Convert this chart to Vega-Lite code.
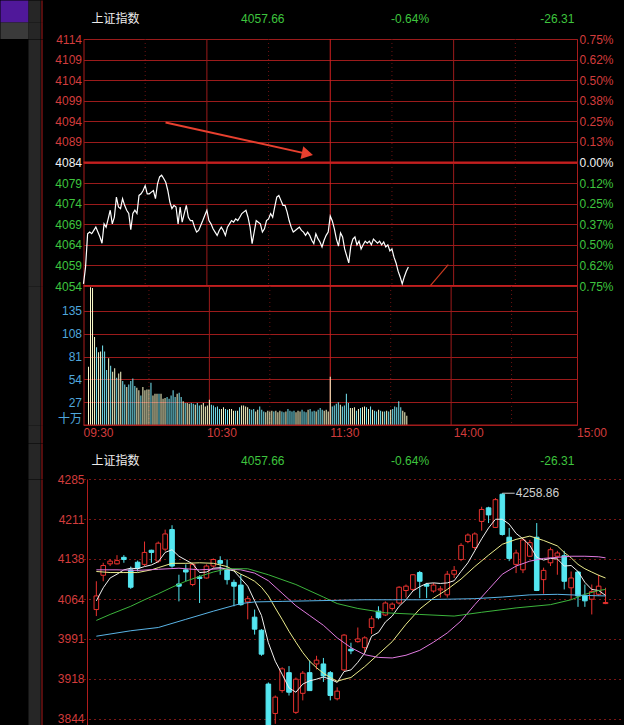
{
"$schema":"https://vega.github.io/schema/vega-lite/v6.json",
"background":"#000000",
"padding":{"left":13.5,"top":0,"right":0,"bottom":0},
"spacing":0,
"bounds":"flush",
"resolve":{"scale":{"color":"independent","strokeDash":"independent"}},
"config":{"view":{"stroke":null},"axis":{"labelFont":"Liberation Sans, Noto Sans CJK SC","labelFontSize":12,"ticks":false,"domain":false,"grid":false},"text":{"font":"Liberation Sans, Noto Sans CJK SC"}},
"datasets":{
"hdr":[{"k":0,"t":"上证指数"},{"k":1,"t":"4057.66"},{"k":2,"t":"-0.64%"},{"k":3,"t":"-26.31"}],
"tlab":[{"m":0,"t":"09:30"},{"m":60,"t":"10:30"},{"m":120,"t":"11:30"},{"m":180,"t":"14:00"},{"m":240,"t":"15:00"}],
"vgrid":[{"m":30,"g":"dot"},{"m":60,"g":"solid"},{"m":90,"g":"dot"},{"m":120,"g":"mid"},{"m":150,"g":"dot"},{"m":180,"g":"solid"},{"m":210,"g":"dot"}],
"hl":[{"p":4084},{"p":4054}],
"zero":[{"v":0}],
"arrow":[{"m":39.9,"p":4093.7,"m2":108.9,"p2":4086.1}],
"seg":[{"m":168.7,"p":4054.1,"m2":177.4,"p2":4059.2}],
"hi":[{"i":60,"i2":61.8,"h":4258.86,"t":"4258.86"}],
"intraday":[
{"m":0,"p":4054.5,"v":69},{"m":1,"p":4058.6,"v":163},{"m":2,"p":4066.7,"v":162},{"m":3,"p":4067.1,"v":104},{"m":4,"p":4066.7,"v":92},{"m":5,"p":4067.5,"v":86},{"m":6,"p":4068.3,"v":87},{"m":7,"p":4067.1,"v":94},{"m":8,"p":4065.9,"v":87},{"m":9,"p":4064.4,"v":65},
{"m":10,"p":4069.1,"v":79},{"m":11,"p":4068.3,"v":70},{"m":12,"p":4070.3,"v":63},{"m":13,"p":4072.4,"v":67},{"m":14,"p":4069.1,"v":56},{"m":15,"p":4070.7,"v":61},{"m":16,"p":4075.6,"v":63},{"m":17,"p":4073.2,"v":52},{"m":18,"p":4072.8,"v":48},{"m":19,"p":4075.2,"v":45},
{"m":20,"p":4073.6,"v":48},{"m":21,"p":4072.4,"v":52},{"m":22,"p":4071.6,"v":55},{"m":23,"p":4067.7,"v":46},{"m":24,"p":4071.6,"v":44},{"m":25,"p":4072.4,"v":41},{"m":26,"p":4071.6,"v":35},{"m":27,"p":4076.0,"v":45},{"m":28,"p":4076.4,"v":41},{"m":29,"p":4077.2,"v":42},
{"m":30,"p":4078.4,"v":42},{"m":31,"p":4076.4,"v":50},{"m":32,"p":4076.4,"v":35},{"m":33,"p":4076.8,"v":37},{"m":34,"p":4077.2,"v":37},{"m":35,"p":4075.2,"v":37},{"m":36,"p":4078.8,"v":37},{"m":37,"p":4080.5,"v":31},{"m":38,"p":4080.9,"v":32},{"m":39,"p":4080.1,"v":33},
{"m":40,"p":4079.2,"v":31},{"m":41,"p":4077.2,"v":35},{"m":42,"p":4074.4,"v":41},{"m":43,"p":4072.8,"v":33},{"m":44,"p":4073.6,"v":37},{"m":45,"p":4073.2,"v":38},{"m":46,"p":4069.1,"v":33},{"m":47,"p":4073.2,"v":28},{"m":48,"p":4069.5,"v":26},{"m":49,"p":4071.6,"v":26},
{"m":50,"p":4073.6,"v":25},{"m":51,"p":4070.7,"v":26},{"m":52,"p":4069.9,"v":25},{"m":53,"p":4069.9,"v":24},{"m":54,"p":4068.3,"v":26},{"m":55,"p":4067.1,"v":23},{"m":56,"p":4067.5,"v":24},{"m":57,"p":4068.7,"v":26},{"m":58,"p":4069.9,"v":22},{"m":59,"p":4071.2,"v":23},
{"m":60,"p":4072.4,"v":30},{"m":61,"p":4069.9,"v":24},{"m":62,"p":4069.1,"v":23},{"m":63,"p":4067.9,"v":21},{"m":64,"p":4067.1,"v":22},{"m":65,"p":4066.3,"v":19},{"m":66,"p":4067.5,"v":19},{"m":67,"p":4068.3,"v":21},{"m":68,"p":4067.5,"v":19},{"m":69,"p":4066.3,"v":18},
{"m":70,"p":4068.3,"v":19},{"m":71,"p":4069.1,"v":19},{"m":72,"p":4069.9,"v":17},{"m":73,"p":4069.5,"v":17},{"m":74,"p":4070.3,"v":17},{"m":75,"p":4069.9,"v":21},{"m":76,"p":4070.7,"v":23},{"m":77,"p":4071.6,"v":23},{"m":78,"p":4072.0,"v":22},{"m":79,"p":4072.4,"v":21},
{"m":80,"p":4070.7,"v":19},{"m":81,"p":4068.3,"v":18},{"m":82,"p":4064.3,"v":19},{"m":83,"p":4067.1,"v":16},{"m":84,"p":4069.9,"v":18},{"m":85,"p":4069.5,"v":22},{"m":86,"p":4069.1,"v":18},{"m":87,"p":4067.1,"v":16},{"m":88,"p":4067.9,"v":15},{"m":89,"p":4069.9,"v":17},
{"m":90,"p":4070.3,"v":16},{"m":91,"p":4071.6,"v":17},{"m":92,"p":4070.7,"v":16},{"m":93,"p":4073.2,"v":17},{"m":94,"p":4075.6,"v":15},{"m":95,"p":4076.0,"v":17},{"m":96,"p":4074.8,"v":16},{"m":97,"p":4073.6,"v":15},{"m":98,"p":4073.6,"v":16},{"m":99,"p":4072.0,"v":19},
{"m":100,"p":4069.9,"v":17},{"m":101,"p":4068.3,"v":16},{"m":102,"p":4067.1,"v":17},{"m":103,"p":4067.5,"v":15},{"m":104,"p":4067.9,"v":17},{"m":105,"p":4068.3,"v":16},{"m":106,"p":4067.5,"v":18},{"m":107,"p":4067.1,"v":16},{"m":108,"p":4066.3,"v":15},{"m":109,"p":4067.1,"v":18},
{"m":110,"p":4066.3,"v":19},{"m":111,"p":4065.1,"v":16},{"m":112,"p":4064.3,"v":17},{"m":113,"p":4066.7,"v":16},{"m":114,"p":4065.5,"v":18},{"m":115,"p":4064.7,"v":20},{"m":116,"p":4063.5,"v":18},{"m":117,"p":4065.1,"v":17},{"m":118,"p":4066.3,"v":18},{"m":119,"p":4067.1,"v":16},
{"m":120,"p":4071.0,"v":57},{"m":121,"p":4069.8,"v":22},{"m":122,"p":4067.9,"v":23},{"m":123,"p":4065.4,"v":25},{"m":124,"p":4063.7,"v":27},{"m":125,"p":4066.9,"v":24},{"m":126,"p":4065.9,"v":22},{"m":127,"p":4063.0,"v":23},{"m":128,"p":4061.3,"v":37},{"m":129,"p":4059.6,"v":26},
{"m":130,"p":4063.7,"v":20},{"m":131,"p":4065.4,"v":20},{"m":132,"p":4065.9,"v":21},{"m":133,"p":4064.0,"v":17},{"m":134,"p":4064.9,"v":19},{"m":135,"p":4063.0,"v":20},{"m":136,"p":4064.0,"v":21},{"m":137,"p":4064.9,"v":22},{"m":138,"p":4064.4,"v":21},{"m":139,"p":4064.9,"v":19},
{"m":140,"p":4064.0,"v":22},{"m":141,"p":4065.4,"v":18},{"m":142,"p":4064.9,"v":17},{"m":143,"p":4064.4,"v":16},{"m":144,"p":4064.9,"v":18},{"m":145,"p":4064.0,"v":17},{"m":146,"p":4064.7,"v":16},{"m":147,"p":4063.5,"v":16},{"m":148,"p":4064.0,"v":17},{"m":149,"p":4062.5,"v":16},
{"m":150,"p":4063.0,"v":18},{"m":151,"p":4061.0,"v":19},{"m":152,"p":4059.6,"v":22},{"m":153,"p":4057.6,"v":21},{"m":154,"p":4056.2,"v":28},{"m":155,"p":4054.5,"v":21},{"m":156,"p":4056.2,"v":17},{"m":157,"p":4057.6,"v":15},{"m":158,"p":4058.6,"v":11}
],
"candles":[
{"i":1,"o":4045,"h":4097,"l":4033,"c":4070},{"i":2,"o":4108,"h":4131,"l":4097,"c":4126},{"i":3,"o":4129,"h":4138,"l":4125,"c":4134},{"i":4,"o":4129,"h":4145,"l":4128,"c":4135},{"i":5,"o":4141,"h":4145,"l":4131,"c":4137},
{"i":6,"o":4118,"h":4124,"l":4083,"c":4086},{"i":7,"o":4132,"h":4135,"l":4115,"c":4121},{"i":8,"o":4128,"h":4170,"l":4125,"c":4150},{"i":9,"o":4154,"h":4155,"l":4131,"c":4150},{"i":10,"o":4134,"h":4170,"l":4131,"c":4167},
{"i":11,"o":4156,"h":4192,"l":4152,"c":4184},{"i":12,"o":4192,"h":4200,"l":4122,"c":4125},{"i":13,"o":4092,"h":4109,"l":4060,"c":4088},{"i":14,"o":4118,"h":4128,"l":4097,"c":4114},{"i":15,"o":4091,"h":4131,"l":4088,"c":4128},
{"i":16,"o":4105,"h":4108,"l":4057,"c":4102},{"i":17,"o":4103,"h":4128,"l":4102,"c":4125},{"i":18,"o":4125,"h":4139,"l":4122,"c":4137},{"i":19,"o":4135,"h":4143,"l":4109,"c":4130},{"i":20,"o":4118,"h":4137,"l":4091,"c":4100},
{"i":21,"o":4095,"h":4100,"l":4051,"c":4088},{"i":22,"o":4090,"h":4110,"l":4052,"c":4054},{"i":23,"o":4059,"h":4070,"l":4027,"c":4065},{"i":24,"o":4031,"h":4045,"l":3999,"c":4009},{"i":25,"o":4007,"h":4009,"l":3960,"c":3963},
{"i":26,"o":3908,"h":3911,"l":3822,"c":3830},{"i":27,"o":3854,"h":3887,"l":3835,"c":3884},{"i":28,"o":3896,"h":3939,"l":3892,"c":3936},{"i":29,"o":3929,"h":3941,"l":3887,"c":3893},{"i":30,"o":3856,"h":3920,"l":3853,"c":3917},
{"i":31,"o":3891,"h":3932,"l":3878,"c":3928},{"i":32,"o":3929,"h":3951,"l":3896,"c":3896},{"i":33,"o":3945,"h":3960,"l":3935,"c":3952},{"i":34,"o":3945,"h":3956,"l":3912,"c":3923},{"i":35,"o":3929,"h":3932,"l":3878,"c":3887},
{"i":36,"o":3881,"h":3902,"l":3878,"c":3895},{"i":37,"o":3934,"h":4000,"l":3932,"c":3998},{"i":38,"o":3972,"h":3984,"l":3963,"c":3969},{"i":39,"o":3986,"h":4012,"l":3984,"c":3991},{"i":40,"o":3975,"h":3996,"l":3966,"c":3993},
{"i":41,"o":4012,"h":4033,"l":4000,"c":4028},{"i":42,"o":4042,"h":4051,"l":4027,"c":4030},{"i":43,"o":4035,"h":4060,"l":4033,"c":4057},{"i":44,"o":4047,"h":4058,"l":4043,"c":4055},{"i":45,"o":4057,"h":4088,"l":4054,"c":4086},
{"i":46,"o":4080,"h":4091,"l":4067,"c":4088},{"i":47,"o":4082,"h":4110,"l":4079,"c":4109},{"i":48,"o":4113,"h":4116,"l":4066,"c":4097},{"i":49,"o":4091,"h":4094,"l":4066,"c":4088},{"i":50,"o":4079,"h":4094,"l":4076,"c":4090},
{"i":51,"o":4081,"h":4088,"l":4067,"c":4083},{"i":52,"o":4072,"h":4116,"l":4067,"c":4110},{"i":53,"o":4110,"h":4125,"l":4103,"c":4117},{"i":54,"o":4137,"h":4167,"l":4134,"c":4163},{"i":55,"o":4170,"h":4185,"l":4167,"c":4182},
{"i":56,"o":4159,"h":4187,"l":4155,"c":4184},{"i":57,"o":4207,"h":4234,"l":4190,"c":4229},{"i":58,"o":4232,"h":4234,"l":4204,"c":4219},{"i":59,"o":4196,"h":4250,"l":4195,"c":4247},{"i":60,"o":4257,"h":4258.86,"l":4181,"c":4183},
{"i":61,"o":4178,"h":4195,"l":4134,"c":4139},{"i":62,"o":4128,"h":4155,"l":4112,"c":4149},{"i":63,"o":4118,"h":4176,"l":4112,"c":4173},{"i":64,"o":4143,"h":4173,"l":4142,"c":4168},{"i":65,"o":4178,"h":4204,"l":4079,"c":4080},
{"i":66,"o":4100,"h":4122,"l":4074,"c":4117},{"i":67,"o":4131,"h":4159,"l":4125,"c":4155},{"i":68,"o":4143,"h":4153,"l":4109,"c":4149},{"i":69,"o":4144,"h":4153,"l":4082,"c":4097},{"i":70,"o":4085,"h":4115,"l":4064,"c":4103},
{"i":71,"o":4114,"h":4116,"l":4050,"c":4070},{"i":72,"o":4071,"h":4091,"l":4050,"c":4061},{"i":73,"o":4064,"h":4091,"l":4036,"c":4078},{"i":74,"o":4073,"h":4109,"l":4070,"c":4088},{"i":75,"o":4056,"h":4085,"l":4055,"c":4058}
],
"ma":[
{"s":"a","i":1,"v":4061},{"s":"a","i":2,"v":4085},{"s":"a","i":3,"v":4103},{"s":"a","i":4,"v":4110},{"s":"a","i":5,"v":4118},{"s":"a","i":6,"v":4121},{"s":"a","i":7,"v":4120},{"s":"a","i":8,"v":4124},{"s":"a","i":9,"v":4127},{"s":"a","i":10,"v":4133},
{"s":"a","i":11,"v":4150},{"s":"a","i":12,"v":4155},{"s":"a","i":13,"v":4143},{"s":"a","i":14,"v":4136},{"s":"a","i":15,"v":4129},{"s":"a","i":16,"v":4113},{"s":"a","i":17,"v":4114},{"s":"a","i":18,"v":4121},{"s":"a","i":19,"v":4122},{"s":"a","i":20,"v":4119},
{"s":"a","i":21,"v":4116},{"s":"a","i":22,"v":4102},{"s":"a","i":23,"v":4088},{"s":"a","i":24,"v":4061},{"s":"a","i":25,"v":4034},{"s":"a","i":26,"v":3984},{"s":"a","i":27,"v":3950},{"s":"a","i":28,"v":3926},{"s":"a","i":29,"v":3901},{"s":"a","i":30,"v":3893},
{"s":"a","i":31,"v":3908},{"s":"a","i":32,"v":3914},{"s":"a","i":33,"v":3917},{"s":"a","i":34,"v":3921},{"s":"a","i":35,"v":3917},{"s":"a","i":36,"v":3911},{"s":"a","i":37,"v":3931},{"s":"a","i":38,"v":3934},{"s":"a","i":39,"v":3948},{"s":"a","i":40,"v":3965},
{"s":"a","i":41,"v":3996},{"s":"a","i":42,"v":4003},{"s":"a","i":43,"v":4022},{"s":"a","i":44,"v":4033},{"s":"a","i":45,"v":4051},{"s":"a","i":46,"v":4063},{"s":"a","i":47,"v":4079},{"s":"a","i":48,"v":4087},{"s":"a","i":49,"v":4093},{"s":"a","i":50,"v":4094},
{"s":"a","i":51,"v":4093},{"s":"a","i":52,"v":4094},{"s":"a","i":53,"v":4098},{"s":"a","i":54,"v":4115},{"s":"a","i":55,"v":4131},{"s":"a","i":56,"v":4153},{"s":"a","i":57,"v":4175},{"s":"a","i":58,"v":4195},{"s":"a","i":59,"v":4211},{"s":"a","i":60,"v":4211},
{"s":"a","i":61,"v":4202},{"s":"a","i":62,"v":4185},{"s":"a","i":63,"v":4175},{"s":"a","i":64,"v":4163},{"s":"a","i":65,"v":4141},{"s":"a","i":66,"v":4136},{"s":"a","i":67,"v":4139},{"s":"a","i":68,"v":4138},{"s":"a","i":69,"v":4125},{"s":"a","i":70,"v":4126},
{"s":"a","i":71,"v":4115},{"s":"a","i":72,"v":4095},{"s":"a","i":73,"v":4082},{"s":"a","i":74,"v":4080},{"s":"a","i":75,"v":4071},
{"s":"b","i":1,"v":4115},{"s":"b","i":3,"v":4113},{"s":"b","i":5,"v":4113},{"s":"b","i":7,"v":4113},{"s":"b","i":9,"v":4118},{"s":"b","i":10,"v":4122},{"s":"b","i":12,"v":4130},{"s":"b","i":14,"v":4130},{"s":"b","i":16,"v":4131},{"s":"b","i":18,"v":4130},
{"s":"b","i":20,"v":4124},{"s":"b","i":21,"v":4117},{"s":"b","i":22,"v":4110},{"s":"b","i":23,"v":4104},{"s":"b","i":24,"v":4097},{"s":"b","i":25,"v":4086},{"s":"b","i":26,"v":4070},{"s":"b","i":27,"v":4048},{"s":"b","i":28,"v":4027},{"s":"b","i":29,"v":4005},
{"s":"b","i":30,"v":3985},{"s":"b","i":31,"v":3966},{"s":"b","i":32,"v":3950},{"s":"b","i":33,"v":3938},{"s":"b","i":34,"v":3928},{"s":"b","i":35,"v":3920},{"s":"b","i":36,"v":3913},{"s":"b","i":37,"v":3917},{"s":"b","i":38,"v":3920},{"s":"b","i":40,"v":3940},
{"s":"b","i":42,"v":3963},{"s":"b","i":44,"v":3986},{"s":"b","i":46,"v":4018},{"s":"b","i":48,"v":4046},{"s":"b","i":50,"v":4066},{"s":"b","i":52,"v":4082},{"s":"b","i":54,"v":4101},{"s":"b","i":56,"v":4124},{"s":"b","i":58,"v":4145},{"s":"b","i":60,"v":4165},
{"s":"b","i":62,"v":4174},{"s":"b","i":64,"v":4180},{"s":"b","i":66,"v":4172},{"s":"b","i":68,"v":4162},{"s":"b","i":69,"v":4150},{"s":"b","i":70,"v":4140},{"s":"b","i":71,"v":4128},{"s":"b","i":72,"v":4120},{"s":"b","i":73,"v":4114},{"s":"b","i":74,"v":4108},{"s":"b","i":75,"v":4103},
{"s":"c","i":1,"v":4118},{"s":"c","i":4,"v":4118},{"s":"c","i":7,"v":4117},{"s":"c","i":10,"v":4119},{"s":"c","i":13,"v":4121},{"s":"c","i":16,"v":4118},{"s":"c","i":19,"v":4120},{"s":"c","i":22,"v":4118},{"s":"c","i":24,"v":4112},{"s":"c","i":26,"v":4098},
{"s":"c","i":28,"v":4075},{"s":"c","i":30,"v":4052},{"s":"c","i":32,"v":4034},{"s":"c","i":34,"v":4016},{"s":"c","i":36,"v":3993},{"s":"c","i":38,"v":3975},{"s":"c","i":40,"v":3962},{"s":"c","i":42,"v":3957},{"s":"c","i":44,"v":3956},{"s":"c","i":46,"v":3961},
{"s":"c","i":48,"v":3970},{"s":"c","i":50,"v":3985},{"s":"c","i":52,"v":4002},{"s":"c","i":54,"v":4024},{"s":"c","i":56,"v":4054},{"s":"c","i":58,"v":4082},{"s":"c","i":60,"v":4110},{"s":"c","i":62,"v":4125},{"s":"c","i":64,"v":4134},{"s":"c","i":66,"v":4139},
{"s":"c","i":68,"v":4141},{"s":"c","i":70,"v":4143},{"s":"c","i":72,"v":4143},{"s":"c","i":74,"v":4142},{"s":"c","i":75,"v":4140},
{"s":"d","i":1,"v":4025},{"s":"d","i":3,"v":4036},{"s":"d","i":6,"v":4051},{"s":"d","i":8,"v":4063},{"s":"d","i":10,"v":4074},{"s":"d","i":12,"v":4086},{"s":"d","i":14,"v":4097},{"s":"d","i":16,"v":4106},{"s":"d","i":18,"v":4114},{"s":"d","i":20,"v":4120},
{"s":"d","i":23,"v":4120},{"s":"d","i":26,"v":4109},{"s":"d","i":30,"v":4091},{"s":"d","i":34,"v":4068},{"s":"d","i":36,"v":4056},{"s":"d","i":39,"v":4047},{"s":"d","i":43,"v":4039},{"s":"d","i":48,"v":4036},{"s":"d","i":53,"v":4033},{"s":"d","i":57,"v":4040},
{"s":"d","i":62,"v":4048},{"s":"d","i":67,"v":4054},{"s":"d","i":70,"v":4063},{"s":"d","i":72,"v":4073},{"s":"d","i":74,"v":4080},{"s":"d","i":75,"v":4082},
{"s":"e","i":1,"v":3996},{"s":"e","i":6,"v":4006},{"s":"e","i":10,"v":4012},{"s":"e","i":14,"v":4027},{"s":"e","i":18,"v":4042},{"s":"e","i":22,"v":4056},{"s":"e","i":24,"v":4059},{"s":"e","i":28,"v":4060},{"s":"e","i":32,"v":4061},{"s":"e","i":36,"v":4062},
{"s":"e","i":40,"v":4063},{"s":"e","i":44,"v":4063},{"s":"e","i":48,"v":4063},{"s":"e","i":52,"v":4064},{"s":"e","i":56,"v":4065},{"s":"e","i":60,"v":4068},{"s":"e","i":64,"v":4072},{"s":"e","i":68,"v":4073},{"s":"e","i":72,"v":4071},{"s":"e","i":75,"v":4070}
]
},
"vconcat":[
{
"width":541,"height":22,
"layer":[
{"data":{"name":"hdr"},"mark":{"type":"text","fontSize":12,"baseline":"middle","align":"center","dy":8},
 "encoding":{"x":{"field":"k","type":"quantitative","scale":{"domain":[-0.2172,3.4556],"nice":false,"zero":false},"axis":null},
 "y":{"datum":0.5,"type":"quantitative","scale":{"domain":[0,1],"nice":false,"zero":false},"axis":null},
 "text":{"field":"t"},"color":{"condition":{"test":"datum.k == 0","value":"#ececec"},"value":"#3ec43e"}}},
{"data":{"name":"hdr"},"mark":{"type":"point","opacity":0},
 "encoding":{"x":{"field":"k","type":"quantitative","scale":{"domain":[-0.2172,3.4556],"nice":false,"zero":false},"axis":null},
 "y":{"datum":0.5,"type":"quantitative","scale":{"domain":[0,1],"nice":false,"zero":false},
 "axis":{"orient":"left","title":null,"offset":69.5,"domain":true,"domainColor":"#50189a","domainWidth":28,"labels":false,"ticks":false,"grid":false}}}},
{"data":{"name":"hdr"},"mark":{"type":"point","opacity":0},
 "encoding":{"x":{"field":"k","type":"quantitative","scale":{"domain":[-0.2172,3.4556],"nice":false,"zero":false},"axis":null},
 "y":{"datum":0.5,"type":"quantitative","scale":{"domain":[0,1],"nice":false,"zero":false},
 "axis":{"orient":"left","title":null,"offset":49.5,"domain":true,"domainColor":"#262626","domainWidth":12,"labels":false,"ticks":false,"grid":false}}}},
{"data":{"name":"hdr"},"mark":{"type":"point","opacity":0},
 "encoding":{"x":{"field":"k","type":"quantitative","scale":{"domain":[-0.2172,3.4556],"nice":false,"zero":false},"axis":null},
 "y":{"datum":0.5,"type":"quantitative","scale":{"domain":[0,1],"nice":false,"zero":false},
 "axis":{"orient":"left","title":null,"offset":42,"domain":true,"domainColor":"#a81c1c","labels":false,"ticks":false,"grid":false}}}}
],
"resolve":{"axis":{"y":"independent"}}
},
{
"width":541,"height":16.5,
"layer":[
{"data":{"name":"hdr"},"mark":{"type":"point","opacity":0},
 "encoding":{"x":{"field":"k","type":"quantitative","scale":{"domain":[-0.2172,3.4556],"nice":false,"zero":false},"axis":null},
 "y":{"datum":0.5,"type":"quantitative","scale":{"domain":[0,1],"nice":false,"zero":false},
 "axis":{"orient":"left","title":null,"offset":69.5,"domain":true,"domainColor":"#3a3a3a","domainWidth":28,"labels":false,"ticks":false,"grid":false}}}},
{"data":{"name":"hdr"},"mark":{"type":"point","opacity":0},
 "encoding":{"x":{"field":"k","type":"quantitative","scale":{"domain":[-0.2172,3.4556],"nice":false,"zero":false},"axis":null},
 "y":{"datum":0.5,"type":"quantitative","scale":{"domain":[0,1],"nice":false,"zero":false},
 "axis":{"orient":"left","title":null,"offset":49.5,"domain":true,"domainColor":"#262626","domainWidth":12,"labels":false,"ticks":false,"grid":false}}}},
{"data":{"name":"hdr"},"mark":{"type":"point","opacity":0},
 "encoding":{"x":{"field":"k","type":"quantitative","scale":{"domain":[-0.2172,3.4556],"nice":false,"zero":false},"axis":null},
 "y":{"datum":0.5,"type":"quantitative","scale":{"domain":[0,1],"nice":false,"zero":false},
 "axis":{"orient":"left","title":null,"offset":42,"domain":true,"domainColor":"#a81c1c","labels":false,"ticks":false,"grid":false}}}}
],
"resolve":{"axis":{"y":"independent"}}
},
{
"width":493.5,"height":247,
"view":{"stroke":"#a81c1c"},
"layer":[
{"data":{"name":"vgrid"},"mark":{"type":"rule","strokeWidth":1},
 "encoding":{"x":{"field":"m","type":"quantitative","scale":{"domain":[0,240],"nice":false,"zero":false},"axis":null},
 "color":{"field":"g","type":"nominal","scale":{"domain":["dot","solid","mid"],"range":["#6a1212","#9b1b1b","#d42020"]},"legend":null},
 "strokeDash":{"field":"g","type":"nominal","scale":{"domain":["dot","solid","mid"],"range":[[1,3],[1,0],[1,0]]},"legend":null}}},
{"data":{"name":"hl"},"mark":{"type":"rule","strokeWidth":2,"color":"#c41e1e"},
 "encoding":{"y":{"field":"p","type":"quantitative","scale":{"domain":[4054,4114],"nice":false,"zero":false},
 "axis":{"orient":"right","title":null,"values":[4054,4059,4064,4069,4074,4079,4084,4089,4094,4099,4104,4109,4114],
 "labelExpr":"['0.75%','0.62%','0.50%','0.38%','0.25%','0.13%','0.00%','0.12%','0.25%','0.37%','0.50%','0.62%','0.75%'][round((4114-datum.value)/5)]",
 "labelPadding":2,"labelColor":{"condition":[{"test":"datum.value > 4084","value":"#d23c3c"},{"test":"datum.value < 4084","value":"#3ec43e"}],"value":"#f0f0f0"}}}}},
{"data":{"name":"intraday"},"mark":{"type":"line","color":"#ffffff","strokeWidth":1.2},
 "encoding":{"x":{"field":"m","type":"quantitative","scale":{"domain":[0,240],"nice":false,"zero":false},"axis":null},
 "y":{"field":"p","type":"quantitative","scale":{"domain":[4054,4114],"nice":false,"zero":false},
 "axis":{"orient":"left","title":null,"values":[4054,4059,4064,4069,4074,4079,4084,4089,4094,4099,4104,4109,4114],"format":"d","labelPadding":2,
 "grid":true,"gridColor":"#9b1b1b","labelColor":{"condition":[{"test":"datum.value > 4084","value":"#d23c3c"},{"test":"datum.value < 4084","value":"#3ec43e"}],"value":"#f0f0f0"}}}}},
{"data":{"name":"arrow"},"mark":{"type":"rule","color":"#e8402f","strokeWidth":2},
 "encoding":{"x":{"field":"m","type":"quantitative","scale":{"domain":[0,240],"nice":false,"zero":false},"axis":null},"x2":{"field":"m2"},
 "y":{"field":"p","type":"quantitative","scale":{"domain":[4054,4114],"nice":false,"zero":false},
 "axis":{"orient":"left","title":null,"offset":42,"domain":true,"domainColor":"#a81c1c","labels":false,"ticks":false,"grid":false}},"y2":{"field":"p2"}}},
{"data":{"name":"arrow"},"mark":{"type":"point","opacity":0},
 "encoding":{"x":{"field":"m","type":"quantitative","scale":{"domain":[0,240],"nice":false,"zero":false},"axis":null},
 "y":{"field":"p","type":"quantitative","scale":{"domain":[4054,4114],"nice":false,"zero":false},
 "axis":{"orient":"left","title":null,"offset":49.5,"domain":true,"domainColor":"#262626","domainWidth":12,"labels":false,"ticks":false,"grid":false}}}},
{"data":{"name":"arrow"},"mark":{"type":"point","shape":"triangle-right","filled":true,"color":"#e8402f","opacity":1,"size":170,"angle":12},
 "encoding":{"x":{"field":"m2","type":"quantitative","scale":{"domain":[0,240],"nice":false,"zero":false},"axis":null},
 "y":{"field":"p2","type":"quantitative","scale":{"domain":[4054,4114],"nice":false,"zero":false},"axis":null}}},
{"data":{"name":"seg"},"mark":{"type":"rule","color":"#c83a20","strokeWidth":1.2},
 "encoding":{"x":{"field":"m","type":"quantitative","scale":{"domain":[0,240],"nice":false,"zero":false},"axis":null},"x2":{"field":"m2"},
 "y":{"field":"p","type":"quantitative","scale":{"domain":[4054,4114],"nice":false,"zero":false},"axis":null},"y2":{"field":"p2"}}}
],
"resolve":{"axis":{"y":"independent"}}
},
{
"width":493.5,"height":139,
"view":{"stroke":"#a81c1c"},
"layer":[
{"data":{"name":"vgrid"},"mark":{"type":"rule","strokeWidth":1},
 "encoding":{"x":{"field":"m","type":"quantitative","scale":{"domain":[0,240],"nice":false,"zero":false},"axis":null},
 "color":{"field":"g","type":"nominal","scale":{"domain":["dot","solid","mid"],"range":["#6a1212","#9b1b1b","#d42020"]},"legend":null},
 "strokeDash":{"field":"g","type":"nominal","scale":{"domain":["dot","solid","mid"],"range":[[1,3],[1,0],[1,0]]},"legend":null}}},
{"data":{"name":"intraday"},"transform":[{"window":[{"op":"lag","field":"p","as":"pp"}]}],
 "mark":{"type":"bar","width":1},
 "encoding":{"x":{"field":"m","type":"quantitative","scale":{"domain":[0,240],"nice":false,"zero":false},"axis":null},
 "y":{"field":"v","type":"quantitative","scale":{"domain":[0,164.4],"nice":false,"zero":false},
 "axis":{"orient":"left","title":null,"values":[0,27,54,81,108,135],"labelExpr":"datum.value == 0 ? '十万' : datum.label","labelColor":"#4fa6dc","labelPadding":2,"labelFlush":true,"grid":true,"gridColor":"#9b1b1b"}},
 "color":{"condition":{"test":"datum.pp == null || datum.p >= datum.pp","value":"#fdfdcc"},"value":"#78e8f6"}}},
{"data":{"name":"zero"},"mark":{"type":"rule","color":"#a81c1c"},
 "encoding":{"y":{"field":"v","type":"quantitative","scale":{"domain":[0,164.4],"nice":false,"zero":false},
 "axis":{"orient":"left","title":null,"offset":42,"domain":true,"domainColor":"#a81c1c","labels":false,"ticks":false,"grid":false}}}},
{"data":{"name":"tlab"},"mark":{"type":"point","opacity":0},
 "encoding":{"x":{"field":"m","type":"quantitative","scale":{"domain":[0,240],"nice":false,"zero":false},"axis":null},
 "y":{"datum":10,"type":"quantitative","scale":{"domain":[0,164.4],"nice":false,"zero":false},
 "axis":{"orient":"left","title":null,"offset":49.5,"domain":true,"domainColor":"#262626","domainWidth":12,"labels":false,"ticks":false,"grid":false}}}}
],
"resolve":{"axis":{"y":"independent"}}
},
{
"width":493.5,"height":17.5,
"layer":[
{"data":{"name":"tlab"},"mark":{"type":"text","fontSize":12,"baseline":"middle","align":"left","color":"#d23c3c","dy":-1},
 "encoding":{"x":{"field":"m","type":"quantitative","scale":{"domain":[0,240],"nice":false,"zero":false},"axis":null},
 "y":{"datum":0.5,"type":"quantitative","scale":{"domain":[0,1],"nice":false,"zero":false},"axis":null},
 "text":{"field":"t"}}},
{"data":{"name":"tlab"},"mark":{"type":"point","opacity":0},
 "encoding":{"x":{"field":"m","type":"quantitative","scale":{"domain":[0,240],"nice":false,"zero":false},"axis":null},
 "y":{"datum":0.5,"type":"quantitative","scale":{"domain":[0,1],"nice":false,"zero":false},
 "axis":{"orient":"left","title":null,"offset":49.5,"domain":true,"domainColor":"#262626","domainWidth":12,"labels":false,"ticks":false,"grid":false}}}},
{"data":{"name":"tlab"},"mark":{"type":"point","opacity":0},
 "encoding":{"x":{"field":"m","type":"quantitative","scale":{"domain":[0,240],"nice":false,"zero":false},"axis":null},
 "y":{"datum":0.5,"type":"quantitative","scale":{"domain":[0,1],"nice":false,"zero":false},
 "axis":{"orient":"left","title":null,"offset":42,"domain":true,"domainColor":"#a81c1c","labels":false,"ticks":false,"grid":false}}}}
],
"resolve":{"axis":{"y":"independent"}}
},
{
"width":541,"height":35.5,
"layer":[
{"data":{"name":"hdr"},"mark":{"type":"text","fontSize":12,"baseline":"middle","align":"center"},
 "encoding":{"x":{"field":"k","type":"quantitative","scale":{"domain":[-0.2172,3.4556],"nice":false,"zero":false},
 "axis":{"orient":"top","title":null,"domain":true,"domainColor":"#a81c1c","labels":false,"ticks":false,"grid":false}},
 "y":{"datum":0.5,"type":"quantitative","scale":{"domain":[0,1],"nice":false,"zero":false},"axis":null},
 "text":{"field":"t"},"color":{"condition":{"test":"datum.k == 0","value":"#ececec"},"value":"#3ec43e"}}},
{"data":{"name":"hdr"},"mark":{"type":"point","opacity":0},
 "encoding":{"x":{"field":"k","type":"quantitative","scale":{"domain":[-0.2172,3.4556],"nice":false,"zero":false},"axis":null},
 "y":{"datum":0.5,"type":"quantitative","scale":{"domain":[0,1],"nice":false,"zero":false},
 "axis":{"orient":"left","title":null,"offset":49.5,"domain":true,"domainColor":"#262626","domainWidth":12,"labels":false,"ticks":false,"grid":false}}}},
{"data":{"name":"hdr"},"mark":{"type":"point","opacity":0},
 "encoding":{"x":{"field":"k","type":"quantitative","scale":{"domain":[-0.2172,3.4556],"nice":false,"zero":false},"axis":null},
 "y":{"datum":0.5,"type":"quantitative","scale":{"domain":[0,1],"nice":false,"zero":false},
 "axis":{"orient":"left","title":null,"offset":42,"domain":true,"domainColor":"#a81c1c","labels":false,"ticks":false,"grid":false}}}}
],
"resolve":{"axis":{"y":"independent"}}
},
{
"width":541,"height":247.5,
"layer":[
{"data":{"name":"candles"},"mark":{"type":"rule","clip":true,"strokeWidth":1},
 "encoding":{"x":{"field":"i","type":"quantitative","scale":{"domain":[-0.141,77.03],"nice":false,"zero":false},
 "axis":{"orient":"top","title":null,"domain":true,"domainColor":"#b01c1c","labels":false,"ticks":false,"grid":false}},
 "y":{"field":"l","type":"quantitative","scale":{"domain":[3830,4285],"nice":false,"zero":false},"axis":null},"y2":{"field":"h"},
 "color":{"condition":{"test":"datum.c >= datum.o","value":"#e8322f"},"value":"#54e6f0"}}},
{"data":{"name":"candles"},"mark":{"type":"bar","width":4.6,"clip":true,"strokeWidth":1},
 "encoding":{"x":{"field":"i","type":"quantitative","scale":{"domain":[-0.141,77.03],"nice":false,"zero":false},"axis":null},
 "y":{"field":"o","type":"quantitative","scale":{"domain":[3830,4285],"nice":false,"zero":false},
 "axis":{"orient":"left","title":null,"offset":-3.5,"values":[3844,3918,3991,4064,4138,4211,4285],"format":"d","labelColor":"#d23c3c","labelPadding":3,"domain":true,"domainColor":"#b01c1c","grid":true,"gridColor":"#7a1616","gridDash":[2,3]}},
 "y2":{"field":"c"},
 "fill":{"condition":{"test":"datum.c >= datum.o","value":"#000000"},"value":"#54e6f0"},
 "stroke":{"condition":{"test":"datum.c >= datum.o","value":"#e8322f"},"value":"#54e6f0"}}},
{"data":{"name":"ma"},"mark":{"type":"line","strokeWidth":1,"clip":true},
 "encoding":{"x":{"field":"i","type":"quantitative","scale":{"domain":[-0.141,77.03],"nice":false,"zero":false},"axis":null},
 "y":{"field":"v","type":"quantitative","scale":{"domain":[3830,4285],"nice":false,"zero":false},
 "axis":{"orient":"left","title":null,"offset":42,"domain":true,"domainColor":"#a81c1c","labels":false,"ticks":false,"grid":false}},
 "color":{"field":"s","type":"nominal","scale":{"domain":["a","b","c","d","e"],"range":["#f0f0f0","#ecec8c","#e07ae0","#3cb43c","#5ab4e6"]},"legend":null}}},
{"data":{"name":"hi"},"mark":{"type":"point","opacity":0},
 "encoding":{"x":{"field":"i","type":"quantitative","scale":{"domain":[-0.141,77.03],"nice":false,"zero":false},"axis":null},
 "y":{"field":"h","type":"quantitative","scale":{"domain":[3830,4285],"nice":false,"zero":false},
 "axis":{"orient":"left","title":null,"offset":49.5,"domain":true,"domainColor":"#262626","domainWidth":12,"labels":false,"ticks":false,"grid":false}}}},
{"data":{"name":"hi"},"mark":{"type":"rule","color":"#c8c8c8"},
 "encoding":{"x":{"field":"i","type":"quantitative","scale":{"domain":[-0.141,77.03],"nice":false,"zero":false},"axis":null},"x2":{"field":"i2"},
 "y":{"field":"h","type":"quantitative","scale":{"domain":[3830,4285],"nice":false,"zero":false},"axis":null}}},
{"data":{"name":"hi"},"mark":{"type":"text","align":"left","baseline":"middle","color":"#d0d0d0","fontSize":12,"dx":1},
 "encoding":{"x":{"field":"i2","type":"quantitative","scale":{"domain":[-0.141,77.03],"nice":false,"zero":false},"axis":null},
 "y":{"field":"h","type":"quantitative","scale":{"domain":[3830,4285],"nice":false,"zero":false},"axis":null},"text":{"field":"t"}}}
],
"resolve":{"axis":{"y":"independent"}}
}
]
}
